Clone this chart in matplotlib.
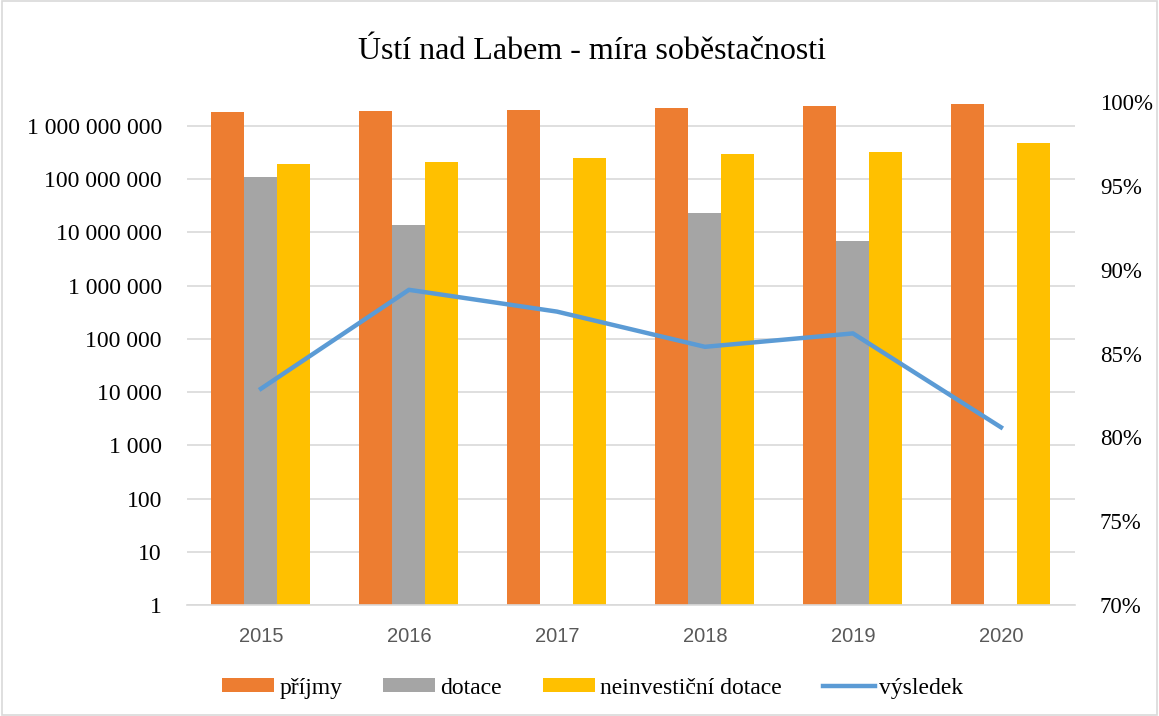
import matplotlib.pyplot as plt
import numpy as np
from matplotlib.ticker import FixedLocator, FuncFormatter

years = ["2015", "2016", "2017", "2018", "2019", "2020"]
prijmy = [1.8e9, 1.9e9, 2.0e9, 2.2e9, 2.4e9, 2.6e9]
dotace = [1.1e8, 1.4e7, np.nan, 2.3e7, 6.9e6, np.nan]
neinv_dotace = [1.95e8, 2.1e8, 2.5e8, 3.0e8, 3.2e8, 4.8e8]
vysledek = [0.829, 0.888, 0.875, 0.854, 0.862, 0.806]

serif = "Liberation Serif"

fig = plt.figure(figsize=(11.59, 7.16), dpi=100)
ax = fig.add_axes([0.1613, 0.155, 0.7662, 0.7025])

x = np.arange(len(years))
w = 0.223
ax.bar(x - w, prijmy, w, color="#ED7D31", label="příjmy", zorder=2)
ax.bar(x, dotace, w, color="#A5A5A5", label="dotace", zorder=2)
ax.bar(x + w, neinv_dotace, w, color="#FFC000", label="neinvestiční dotace", zorder=2)

ax.set_yscale("log")
ax.set_ylim(1, 10 ** 9.45)
ax.set_xlim(-0.5, len(years) - 0.5)
ax.yaxis.set_major_locator(FixedLocator([10 ** k for k in range(10)]))
ax.yaxis.set_minor_locator(FixedLocator([]))
ax.yaxis.set_major_formatter(FuncFormatter(lambda v, p: f"{int(round(v)):,}".replace(",", " ")))
ax.grid(axis="y", color="#D9D9D9", linewidth=1.2, zorder=0)
ax.set_xticks(x)
ax.set_xticklabels(years, fontfamily="Liberation Sans", fontsize=14.5, color="#595959")
for lab in ax.get_yticklabels():
    lab.set_fontfamily(serif)
    lab.set_fontsize(17)
ax.tick_params(axis="x", length=0, pad=16)
ax.tick_params(axis="y", length=0, pad=18)
for s in ["top", "right", "left"]:
    ax.spines[s].set_visible(False)
ax.spines["bottom"].set_color("#D9D9D9")
ax.spines["bottom"].set_linewidth(1.2)

ax2 = ax.twinx()
ax2.plot(x, vysledek, color="#5B9BD5", linewidth=3.2, label="výsledek", zorder=3)
ax2.set_ylim(0.70, 1.00)
ax2.set_yticks([0.70, 0.75, 0.80, 0.85, 0.90, 0.95, 1.00])
ax2.set_yticklabels([f"{int(round(v * 100))}%" for v in ax2.get_yticks()], fontfamily=serif, fontsize=16.5)
ax2.tick_params(axis="y", length=0, pad=18)
for s in ["top", "right", "left", "bottom"]:
    ax2.spines[s].set_visible(False)

fig.text(0.511, 0.928, "Ústí nad Labem - míra soběstačnosti", ha="center", va="center",
         fontfamily=serif, fontsize=23)

h1, l1 = ax.get_legend_handles_labels()
h2, l2 = ax2.get_legend_handles_labels()
fig.legend(h1 + h2, l1 + l2, loc="center", bbox_to_anchor=(0.5117, 0.039), ncol=4, frameon=False,
           prop={"family": serif, "size": 17}, handlelength=2.2, handleheight=0.5,
           handletextpad=0.2, columnspacing=1.75)

fig.patches.append(plt.Rectangle((0.002, 0.002), 0.996, 0.996, transform=fig.transFigure,
                                 fill=False, edgecolor="#D9D9D9", linewidth=1.2))

fig.savefig("out.png", dpi=100)
